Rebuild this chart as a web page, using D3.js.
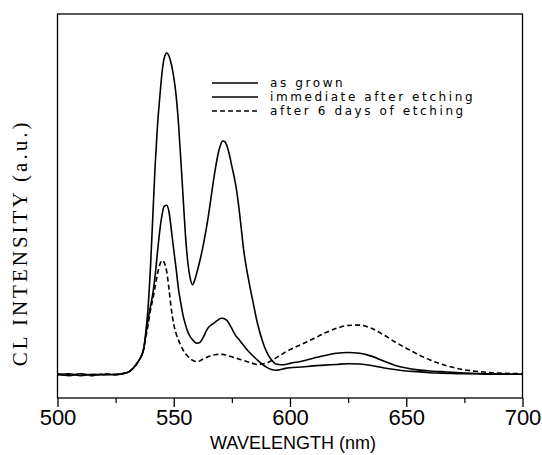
<!DOCTYPE html>
<html><head><meta charset="utf-8">
<script src="https://cdn.jsdelivr.net/npm/d3@7"></script>
<style>body{margin:0;background:#fff}svg{display:block}</style>
</head><body>
<script>
const wavelengths = [500,505,510,515,520,525,528,531,533,535,
 537,538,539,540,541,542,543,544,545,546,547,548,549,550,551,552,553,554,555,556,557,558,559,560,
 561,562,563,564,565,566,567,568,569,570,571,572,573,574,575,576,577,578,579,580,
 582,584,586,588,590,592,594,596,598,600,
 605,610,615,620,625,630,635,640,645,650,655,660,665,670,675,680,685,690,695,700];
const asGrown = [0.2,-0.2,0.3,-0.1,0.2,0.0,0.3,1.0,2.2,4.0,
 7,12,19,30,44,58,69,77,84,88,89.2,88.3,86,82.5,77.5,70,60,49.5,39,31.5,27,25,26.2,28.5,
 31,33.8,37,40.5,44.5,49,53.5,57.5,61,63.5,64.8,64.6,63.2,60.8,57.8,54.8,51.3,46.5,40.8,35,
 27,20.5,14.3,9.7,6.3,4.2,3.0,2.8,2.9,3.2,
 3.8,4.6,5.4,6.0,6.2,6.0,5.2,3.9,2.7,1.9,1.4,1.1,0.9,0.7,0.5,0.4,0.3,0.3,0.2,0.2];
const immediate = [0.0,0.3,-0.2,0.2,0.0,0.2,0.3,1.0,2.2,4.0,
 7,11,15.5,19,22.5,27.5,34,40,44.5,46.8,47,45,40,34.6,29.5,24,20,16.5,14,12,10.7,9.8,9.1,8.8,
 8.9,9.6,10.8,12.2,13.2,13.8,14.2,14.7,15.2,15.6,15.7,15.5,15,14,12.8,11.6,10.6,9.9,9.0,8.2,
 6.6,5.3,4.1,3.0,2.1,1.5,1.3,1.5,1.8,2.0,
 2.2,2.5,2.7,2.9,3.1,3.0,2.6,2.0,1.5,1.1,0.9,0.6,0.5,0.4,0.3,0.3,0.2,0.2,0.2,0.2];
const afterSixDays = [0.3,0.0,0.2,-0.2,0.3,0.1,0.4,1.0,2.2,4.0,
 7,10.5,14,18,21,24.5,28,30.5,31.7,31,28.5,23.5,18,14,11.5,9.7,8.2,6.9,5.9,5.2,4.6,4.1,3.8,3.7,
 3.8,4.2,4.5,4.8,5.1,5.3,5.5,5.6,5.7,5.7,5.7,5.6,5.4,5.2,5.0,4.8,4.6,4.4,4.2,4.0,
 3.6,3.2,2.9,3.0,3.3,3.9,4.7,5.5,6.3,7.0,
 8.5,10.0,11.6,12.9,13.7,13.8,12.9,11.2,9.2,7.4,5.7,4.2,3.0,2.1,1.4,1.0,0.7,0.5,0.4,0.3];
const xTicks = [500,550,600,650,700];
const xMinorTicks = [525,575,625,675];
const seriesNames = ["as grown","immediate after etching","after 6 days of etching"];
const seriesDash = [null,null,"5,3"];

const W=542,H=455;
const svg=d3.select("body").append("svg").attr("width",W).attr("height",H);
const x=d3.scaleLinear().domain([500,700]).range([57.5,522.5]);
const y=d3.scaleLinear().domain([-6.4,100]).range([398,14]);

// frame
svg.append("rect").attr("x",x(500)).attr("y",y(100)).attr("width",x(700)-x(500)).attr("height",y(-6.4)-y(100))
  .attr("fill","none").attr("stroke","#000").attr("stroke-width",1.3);

// bottom axis
const ax=svg.append("g").attr("transform",`translate(0,${y(-6.4)})`);
ax.call(d3.axisBottom(x).tickValues(xTicks).tickSize(9).tickPadding(2).tickFormat(d3.format("d")));
ax.select(".domain").remove();
ax.selectAll(".tick line").attr("stroke","#000").attr("stroke-width",1.3);
ax.selectAll(".tick text").attr("font-family","Liberation Sans, Arial, sans-serif").attr("font-size",22).attr("fill","#000");
const axm=svg.append("g").attr("transform",`translate(0,${y(-6.4)})`);
axm.call(d3.axisBottom(x).tickValues(xMinorTicks).tickSize(5).tickFormat(""));
axm.select(".domain").remove();
axm.selectAll(".tick line").attr("stroke","#000").attr("stroke-width",1.2);

svg.append("text").attr("x",x(600)+3).attr("y",449).attr("text-anchor","middle")
  .attr("font-family","Liberation Sans, Arial, sans-serif").attr("font-size",18).text("WAVELENGTH  (nm)");
svg.append("text").attr("transform","translate(27,243) rotate(-90)").attr("text-anchor","middle")
  .attr("font-family","Liberation Serif, Times New Roman, serif").attr("font-size",21).attr("letter-spacing",3)
  .text("CL  INTENSITY  (a.u.)");

const series=[asGrown,immediate,afterSixDays];
const line=d3.line().x((d,i)=>x(wavelengths[i])).y(d=>y(d)).curve(d3.curveMonotoneX);
series.forEach((s,k)=>{
  svg.append("path").datum(s).attr("d",line).attr("fill","none").attr("stroke","#000")
    .attr("stroke-width",1.6).attr("stroke-dasharray",seriesDash[k]);
});

// legend
const lg=svg.append("g");
seriesNames.forEach((n,k)=>{
  const yy=83+k*14;
  lg.append("line").attr("x1",212).attr("x2",258).attr("y1",yy).attr("y2",yy).attr("stroke","#000")
    .attr("stroke-width",1.3).attr("stroke-dasharray",seriesDash[k]);
  lg.append("text").attr("x",270).attr("y",yy+4).attr("font-family","DejaVu Sans, sans-serif")
    .attr("font-size",12).attr("letter-spacing",2.6).text(n);
});
</script>
</body></html>
